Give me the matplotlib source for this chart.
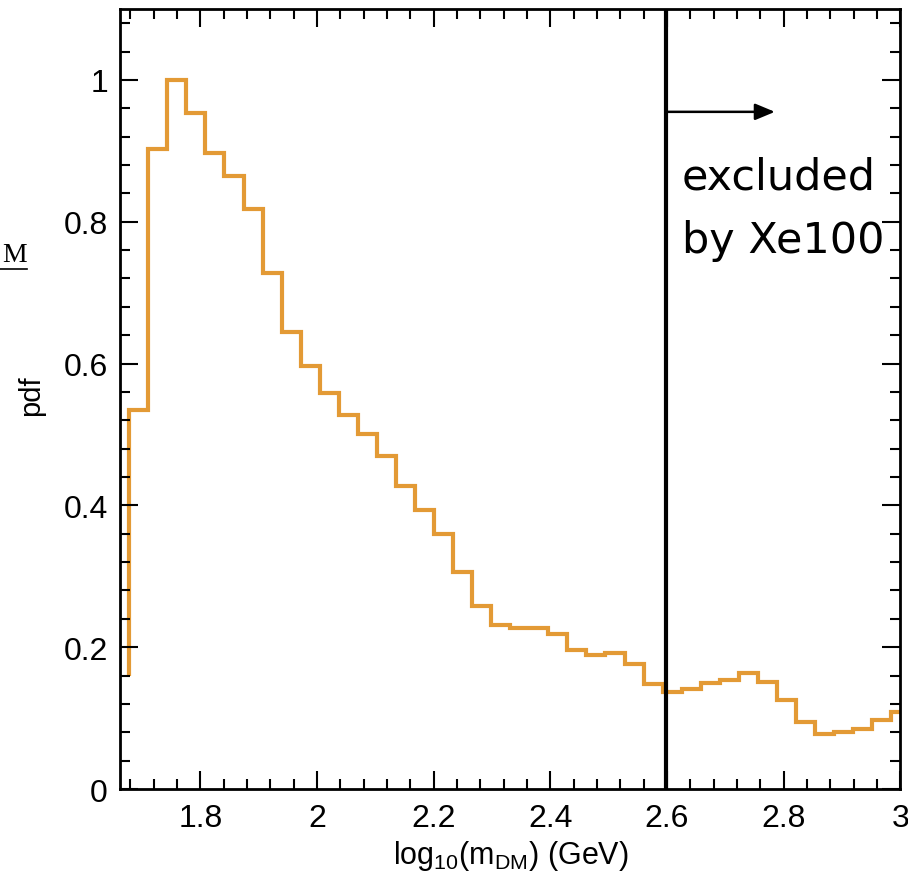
import numpy as np
import matplotlib
matplotlib.use("Agg")
import matplotlib.pyplot as plt
from matplotlib.lines import Line2D

# Histogram of log10(m_DM): first bin edge, bin width and normalised heights
firstEdge = 1.678
binWidth = 0.03266
startLevel = 0.16
pdf = [0.535, 0.902, 1.0, 0.953, 0.897, 0.865, 0.818, 0.728, 0.645, 0.596,
       0.558, 0.527, 0.501, 0.469, 0.428, 0.394, 0.360, 0.306, 0.258, 0.232,
       0.227, 0.227, 0.219, 0.196, 0.189, 0.192, 0.177, 0.148, 0.137, 0.141,
       0.149, 0.154, 0.163, 0.151, 0.126, 0.095, 0.077, 0.080, 0.085, 0.098,
       0.109]

xeLimit = 2.598
arrowEnd = 2.785
arrowLevel = 0.955
xTicks = [1.8, 2.0, 2.2, 2.4, 2.6, 2.8, 3.0]
yTicks = [0, 0.2, 0.4, 0.6, 0.8, 1.0]

if __name__ == "__main__":
    plt.rcParams['font.family'] = ['Liberation Sans', 'DejaVu Sans']
    plt.rcParams['mathtext.fontset'] = 'custom'
    plt.rcParams['mathtext.rm'] = 'Liberation Sans'
    plt.rcParams['mathtext.it'] = 'Liberation Sans'

    fig = plt.figure(figsize=(9.08, 8.95), dpi=100)
    ax = fig.add_axes([0.1327, 0.1173, 0.8588, 0.8715])

    edges = firstEdge + binWidth * np.arange(len(pdf) + 1)
    ax.stairs(pdf, edges, baseline=startLevel, color="#E39A35", lw=3.0)

    ax.axvline(xeLimit, color="k", lw=3.0)
    ax.annotate("", xy=(arrowEnd, arrowLevel), xytext=(xeLimit, arrowLevel),
                arrowprops=dict(arrowstyle="-|>,head_length=0.6,head_width=0.25",
                                mutation_scale=20, lw=1.8, color="k",
                                shrinkA=0, shrinkB=0))
    ax.text(2.625, 0.893, "excluded\nby Xe100", fontsize=31, family="DejaVu Sans",
            ha="left", va="top", linespacing=1.65)

    ax.set_xlim(1.663, 2.996)
    ax.set_ylim(0, 1.1)
    ax.set_xticks(xTicks)
    ax.set_xticklabels(["%g" % t for t in xTicks])
    ax.set_yticks(yTicks)
    ax.set_yticklabels(["%g" % t for t in yTicks])
    ax.set_xticks(np.arange(1.68, 3.0, 0.04), minor=True)
    ax.set_yticks(np.arange(0.04, 1.1, 0.04), minor=True)
    ax.tick_params(which="both", direction="in", top=True, right=True, width=1.5,
                   labelsize=23)
    ax.tick_params(which="major", length=13)
    ax.tick_params(which="minor", length=7)
    ax.tick_params(axis="x", pad=10)
    ax.tick_params(axis="y", pad=9)
    plt.setp(ax.spines.values(), linewidth=2.0)

    ax.set_xlabel(r"log$_{10}$(m$_{DM}$) (GeV)", fontsize=22)
    ax.set_ylabel("pdf", fontsize=21)
    ax.yaxis.set_label_coords(-0.097, 0.506)

    # fragment of the neighbouring panel's label at the left edge
    fig.text(27 / 908, 1 - 262 / 895, "M", family="Liberation Serif", fontsize=20,
             ha="right", va="baseline")
    fig.add_artist(Line2D([0, 27 / 908], [1 - 270 / 895, 1 - 270 / 895],
                          color="k", lw=1.2, transform=fig.transFigure))

    fig.savefig("out.png", dpi=100)
